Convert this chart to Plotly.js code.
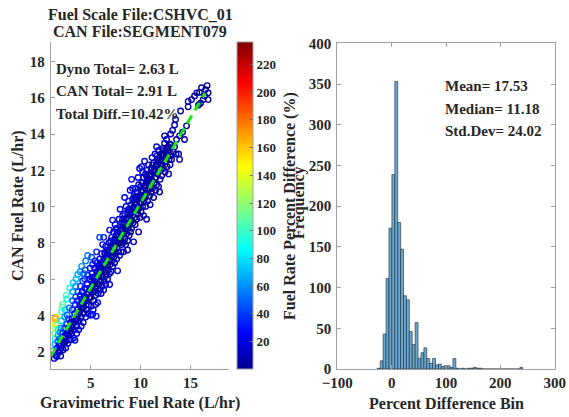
<!DOCTYPE html>
<html>
<head>
<meta charset="utf-8">
<script src="https://cdn.plot.ly/plotly-3.0.1.min.js"></script>
<style>html,body{margin:0;padding:0;background:#fff;}#chart{width:569px;height:417px;}</style>
</head>
<body>
<div id="chart"></div>
<script>
// ---- Scatter data: gravimetric (dyno) fuel rate vs CAN fuel rate, L/hr ----
const gravX = [
1.25,1.35,1.42,1.45,1.4,1.45,1.48,1.42,1.5,1.55,
1.6,1.65,1.7,1.72,1.75,1.8,1.85,1.9,1.95,2.0,
2.05,2.1,2.05,2.08,2.1,2.15,2.2,2.2,2.25,2.3,
2.35,2.4,2.4,2.45,2.5,2.55,2.6,2.6,2.65,2.6,
2.55,2.7,2.75,2.8,2.8,2.85,2.9,2.9,2.95,3.0,
3.05,3.1,3.1,3.15,3.15,3.2,3.2,3.25,3.3,3.35,
3.4,3.4,3.45,3.5,3.5,3.55,3.6,3.6,3.65,3.7,
3.7,3.75,3.7,3.8,3.85,3.9,3.9,3.95,4.0,3.95,
3.43,
4.05,4.05,4.1,4.1,4.15,4.2,4.1,4.25,4.3,4.3,
4.35,4.4,4.4,4.45,4.5,4.55,4.6,4.6,4.65,4.7,
4.7,4.75,4.8,4.85,4.9,4.9,4.95,5.0,4.5,4.3,
5.05,5.05,5.1,5.1,5.15,5.2,5.1,5.25,5.3,5.3,
5.35,5.4,5.4,5.45,5.5,5.5,5.55,5.6,5.6,5.65,
5.6,5.7,5.75,5.8,5.8,5.85,5.9,5.95,6.0,5.9,
5.55,5.2,
6.05,6.05,6.1,6.1,6.15,6.2,6.2,6.25,6.3,6.3,
6.35,6.4,6.4,6.45,6.5,6.5,6.55,6.6,6.6,6.65,
6.7,6.75,6.8,6.8,6.85,6.9,6.95,7.0,6.9,6.9,
6.3,
7.05,7.05,7.1,7.1,7.15,7.2,7.2,7.25,7.3,7.3,
7.35,7.4,7.4,7.45,7.5,7.5,7.55,7.6,7.6,7.65,
7.7,7.7,7.75,7.8,7.8,7.85,7.9,7.95,7.95,8.0,
8.05,8.05,8.1,8.1,8.15,8.2,8.25,8.3,8.3,8.35,
8.4,8.4,8.45,8.5,8.5,8.55,8.6,8.65,8.7,8.7,
8.75,8.8,8.8,8.85,8.9,8.9,8.95,9.0,8.4,8.7,
9.05,9.05,9.1,9.1,9.15,9.2,9.25,9.3,9.3,9.35,
9.4,9.4,9.45,9.5,9.5,9.55,9.6,9.6,9.65,9.7,
9.75,9.8,9.8,9.85,9.9,9.9,9.95,10.0,9.75,9.2,
10.05,10.05,10.1,10.1,10.15,10.2,10.25,10.3,10.3,10.35,
10.4,10.4,10.45,10.5,10.5,10.55,10.6,10.65,10.7,10.7,
10.75,10.8,10.85,10.9,10.9,10.95,11.0,10.4,10.6,10.2,
11.05,11.05,11.1,11.15,11.2,11.25,11.3,11.3,11.35,11.4,
11.45,11.5,11.5,11.55,11.6,11.65,11.7,11.75,11.8,11.8,
11.85,11.9,11.95,12.0,11.6,11.9,
12.05,12.1,12.15,12.2,12.26,12.3,12.35,12.4,12.45,12.5,
12.55,12.6,12.65,12.7,12.75,12.8,12.85,12.9,12.95,13.0,
13.05,13.1,13.2,13.25,13.4,13.4,13.5,13.55,13.6,13.8,
13.9,13.9,14.0,
14.2,14.4,14.6,14.76,14.76,15.1,15.4,15.63,15.8,15.9,
16.26,16.5,16.66,16.76,16.76,16.1,16.0,16.4,13.0,12.4,
2.3,2.5,2.7,2.9,3.1,3.3,3.5,3.7,3.9,4.1,
4.2,4.4,4.5,4.7,4.8,5.0,5.1,5.3,5.4,5.6,
5.7,5.9,6.0,6.2,6.3,6.5,6.6,6.8,6.9,7.1,
7.2,7.4,7.5,7.7,7.8,8.0,8.1,8.3,8.4,8.6,
8.7,8.9,9.0,9.2,9.3,9.5,9.6,9.8,9.9,10.1,
10.2,10.4,10.5,10.7,10.8,11.0,11.1,11.3,11.4,11.6,
11.7,11.9,12.0,12.2,12.3,12.5,12.7,12.9,4.6,5.2,
5.8,6.4,7.0,7.6,8.2,8.8,9.4,10.0,10.6,11.2,
4.3,4.9,5.5,6.1,6.7,7.3,7.9,8.5,9.1,9.7,
10.3,10.9,11.5,12.1,3.6,3.0,2.4,1.9,1.5,2.0
];
const canY = [
2.05,1.62,2.4,2.7,3.0,3.3,3.55,3.8,3.9,3.45,
1.72,2.2,2.55,2.9,3.2,1.95,2.35,2.7,3.05,1.75,
2.2,2.6,3.3,3.7,4.2,4.45,4.6,3.0,2.1,2.45,
2.85,3.3,3.9,4.3,2.2,2.6,3.0,3.5,4.0,4.9,
5.1,2.45,2.9,3.3,3.8,4.4,5.5,2.7,3.1,3.6,
2.65,3.0,3.4,3.8,4.3,4.8,5.3,5.8,2.75,3.2,
3.6,4.1,4.6,5.0,5.6,6.0,3.0,3.4,3.9,4.3,
4.8,5.3,6.25,3.2,3.7,4.2,4.6,5.1,5.6,6.4,
2.62,
3.4,3.9,4.4,4.9,5.3,5.9,6.7,3.6,4.1,4.6,
5.0,5.5,6.0,6.5,3.9,4.3,4.8,5.2,5.7,6.2,
7.3,4.1,4.6,5.0,5.5,6.0,6.6,4.0,7.0,6.3,
4.5,5.0,5.4,5.9,6.3,6.8,7.2,4.3,4.8,5.3,
5.7,6.1,6.6,7.0,4.6,5.1,5.5,6.0,6.4,6.9,
7.5,4.7,5.2,5.7,6.2,6.6,7.1,5.4,5.9,8.3,
3.95,4.05,
5.2,6.4,6.9,7.4,5.6,6.1,7.9,6.6,7.1,5.4,
5.9,6.4,6.9,7.4,7.8,5.7,6.2,6.7,7.2,7.6,
6.0,6.5,7.0,7.5,8.0,6.3,6.8,7.3,8.7,5.7,
8.3,
6.4,7.8,7.0,8.3,7.5,6.7,9.25,8.0,7.2,8.6,
7.7,6.9,8.2,9.0,7.4,7.9,8.4,7.1,8.8,7.7,
6.45,8.2,7.5,8.6,7.95,9.3,7.3,8.1,9.85,8.7,
7.5,8.3,9.1,7.9,8.7,9.5,8.0,8.5,7.5,9.0,
9.6,8.2,8.8,7.9,9.3,10.0,8.5,9.1,8.1,9.6,
8.8,10.3,9.3,8.4,9.0,9.8,10.9,8.6,10.5,7.6,
9.3,10.1,11.5,8.8,9.7,10.4,9.1,9.9,8.05,10.6,
9.4,10.2,9.0,9.8,11.0,10.5,9.3,10.1,10.8,9.6,
10.4,8.6,11.2,9.9,10.6,12.1,9.4,10.2,11.6,11.0,
10.9,9.7,12.2,10.5,11.3,10.0,10.8,11.6,9.5,10.3,
12.5,11.1,10.5,11.8,10.0,11.3,10.7,12.0,10.3,11.5,
10.9,12.3,11.2,10.6,11.8,10.1,11.4,10.5,9.3,11.9,
10.8,12.1,11.5,12.7,11.0,11.9,12.4,10.5,11.3,12.0,
12.9,11.6,10.9,12.3,11.2,12.8,11.8,12.5,11.1,13.1,
12.1,12.7,11.5,12.3,13.3,10.8,
12.9,11.7,12.5,13.2,13.1,12.1,12.8,13.5,11.9,12.5,
13.0,13.7,12.2,12.8,13.3,11.8,12.6,13.1,12.3,12.8,
13.4,12.6,14.2,13.0,14.5,13.3,14.8,12.9,13.7,12.9,
12.6,13.9,15.27,
14.1,13.7,14.45,15.5,15.8,15.9,16.1,16.27,15.6,16.3,
15.9,16.45,16.67,16.27,15.9,16.55,15.7,16.1,14.0,13.9,
2.55,2.85,2.95,3.25,3.3,3.65,3.75,4.05,4.2,4.55,
4.65,4.85,4.95,5.15,5.25,5.45,5.55,5.8,5.85,6.2,
6.25,6.45,6.55,6.8,6.85,7.1,7.25,7.4,7.55,7.8,
7.85,8.05,8.15,8.45,8.45,8.65,8.75,9.05,9.05,9.3,
9.35,9.65,9.7,9.9,9.95,10.25,10.25,10.55,10.6,10.85,
10.85,11.05,11.2,11.35,11.45,11.65,11.75,11.95,12.05,12.25,
12.35,12.55,12.6,12.85,12.9,13.1,13.2,13.45,5.45,6.1,
6.7,7.45,8.1,8.7,9.3,9.85,10.5,11.1,11.65,12.3,
4.45,5.0,5.6,6.25,6.8,7.45,8.0,8.65,9.2,9.8,
10.45,11.0,11.6,12.25,3.75,3.15,2.5,2.1,1.8,2.35
];
// Fitted trend line end points (L/hr)
const fitX = [1.0, 16.45];
const fitY = [1.74, 16.26];

// ---- Histogram of percent difference ----
const binStart = -26.3;
const binWidth = 5.35;
const histCounts = [
1,10,43,111,173,239,353,180,147,90,
85,46,30,57,13,20,26,13,7,13,
5,6,3,4,4,2,13,1,0,1,
0,1,1,2,1,1,0,0,0,0,
0,0,0,0,0,0,0,0,0,2
];

// ---- Text ----
const titleLines = ["Fuel Scale File:CSHVC_01", "CAN File:SEGMENT079"];
const leftStats = ["Dyno Total= 2.63 L", "CAN Total= 2.91 L", "Total Diff.=10.42%"];
const rightStats = ["Mean= 17.53", "Median= 11.18", "Std.Dev= 24.02"];
const xTicksLeft = [5, 10, 15];
const yTicksLeft = [2, 4, 6, 8, 10, 12, 14, 16, 18];
const cbTicks = [20, 40, 60, 80, 100, 120, 140, 160, 180, 200, 220];
const xTicksRight = [-100, 0, 100, 200, 300];
const yTicksRight = [0, 50, 100, 150, 200, 250, 300, 350, 400];

// derived
const pctDiff = gravX.map((x, i) => Math.abs((canY[i] - x) / x * 100));
const binCenters = histCounts.map((c, i) => binStart + binWidth * (i + 0.5));

const W = 569, H = 417;
const px = v => v / W;
const py = v => 1 - v / H;
const FONT = "Liberation Serif, Times New Roman, serif";
const TXT = "#262626";
const AX = "#a0a0a0";

const jet = [
  [0, 'rgb(0,0,143)'], [0.111, 'rgb(0,0,255)'], [0.365, 'rgb(0,255,255)'],
  [0.619, 'rgb(255,255,0)'], [0.873, 'rgb(255,0,0)'], [1, 'rgb(128,0,0)']
];

const traces = [
  {
    type: 'scatter', mode: 'markers', x: gravX, y: canY, xaxis: 'x', yaxis: 'y',
    marker: {
      symbol: 'circle-open', size: 5.5, color: pctDiff, colorscale: jet, cmin: 0, cmax: 236,
      line: {width: 1.4},
      colorbar: {
        x: px(237), xanchor: 'left', xpad: 0, ypad: 0,
        y: py(369.3), yanchor: 'bottom', len: 327 / H, lenmode: 'fraction',
        thickness: 16, thicknessmode: 'pixels',
        outlinewidth: 1, outlinecolor: AX,
        tickvals: cbTicks, ticks: 'inside', ticklen: 3, tickcolor: '#666',
        tickfont: {family: FONT, size: 13, color: TXT, weight: 'bold'}
      }
    },
    hoverinfo: 'skip'
  },
  {
    type: 'scatter', mode: 'lines', x: fitX, y: fitY, xaxis: 'x', yaxis: 'y',
    line: {color: 'rgb(20,230,20)', width: 3, dash: '9px,6px'}, hoverinfo: 'skip'
  },
  {
    type: 'bar', x: binCenters, y: histCounts, width: binWidth, xaxis: 'x2', yaxis: 'y2',
    marker: {color: 'rgb(102,170,215)', line: {color: 'rgb(35,35,35)', width: 0.6}},
    hoverinfo: 'skip'
  }
];

const tickFont = {family: FONT, size: 15, color: TXT, weight: 'bold'};
const axBase = {
  showgrid: false, zeroline: false, showline: true, linecolor: AX, linewidth: 1,
  ticks: 'inside', ticklen: 4, tickcolor: AX, tickfont: tickFont, fixedrange: true
};

const ann = [];
function addText(text, x, y, opts) {
  ann.push(Object.assign({
    text: text, x: px(x), y: py(y), xref: 'paper', yref: 'paper', showarrow: false,
    xanchor: 'center', yanchor: 'middle',
    font: {family: FONT, size: 16, color: TXT, weight: 'bold'}
  }, opts || {}));
}
addText(titleLines[0], 140, 14);
addText(titleLines[1], 140, 32);
leftStats.forEach((t, i) => addText(t, 54, [69, 91, 114][i], {xanchor: 'left', font: {family: FONT, size: 15, color: TXT, weight: 'bold'}}));
rightStats.forEach((t, i) => addText(t, 443, [86, 109, 131][i], {xanchor: 'left', font: {family: FONT, size: 15, color: TXT, weight: 'bold'}}));
addText("Gravimetric Fuel Rate (L/hr)", 140, 403);
addText("Percent Difference Bin", 446, 403);
addText("CAN Fuel Rate (L/hr)", 18, 206, {textangle: -90});
addText("Fuel Rate Percent Difference (%)", 290, 206, {textangle: -90});
addText("Frequency", 299, 203, {textangle: -90});

const layout = {
  width: W, height: H, margin: {l: 0, r: 0, t: 0, b: 0},
  paper_bgcolor: '#fff', plot_bgcolor: '#fff', showlegend: false, bargap: 0,
  xaxis: Object.assign({}, axBase, {domain: [px(50.7), px(229)], range: [1, 18.85], tickvals: xTicksLeft, anchor: 'y', ticklabelstandoff: 0}),
  yaxis: Object.assign({}, axBase, {domain: [py(369.3), py(42.3)], range: [1.02, 19.06], tickvals: yTicksLeft, anchor: 'x', ticklabelstandoff: 2}),
  xaxis2: Object.assign({}, axBase, {domain: [px(337.3), px(554.7)], range: [-100, 300], tickvals: xTicksRight, anchor: 'y2', mirror: 'ticks', ticklabelstandoff: 0}),
  yaxis2: Object.assign({}, axBase, {domain: [py(369), py(43.3)], range: [0, 400], tickvals: yTicksRight, anchor: 'x2', mirror: 'ticks', ticklabelstandoff: 2}),
  annotations: ann
};

Plotly.newPlot('chart', traces, layout, {displayModeBar: false, staticPlot: true});
</script>
</body>
</html>
